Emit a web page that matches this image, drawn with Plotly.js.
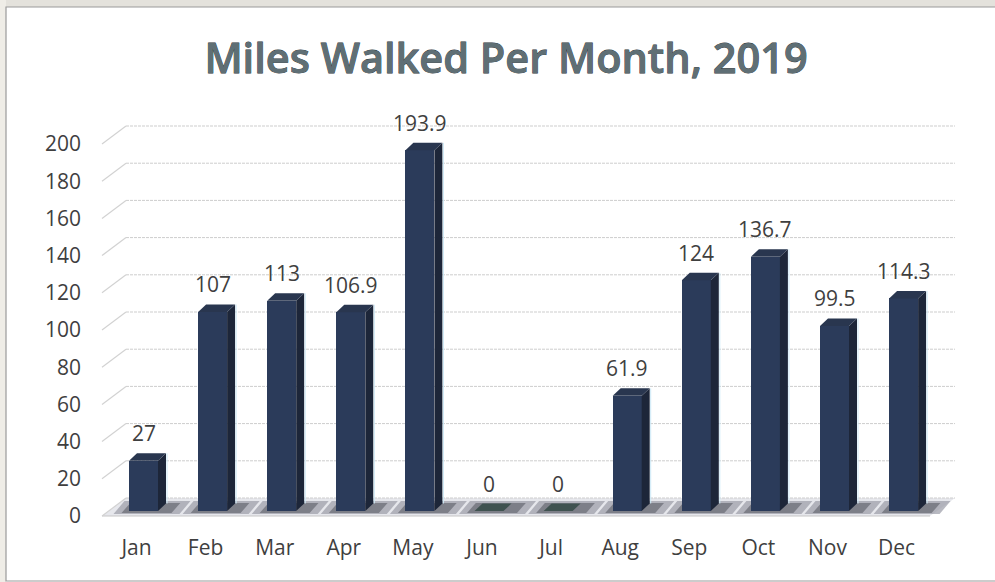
<!DOCTYPE html>
<html><head><meta charset="utf-8">
<script src="https://cdn.plot.ly/plotly-3.0.1.min.js"></script>
<style>
html,body{margin:0;padding:0;background:#fff}
#chart{width:995px;height:582px}
.gtitle{stroke:#2a3236;stroke-width:.8px;paint-order:stroke}
</style></head><body><div id="chart"></div>
<script>
const months=['Jan','Feb','Mar','Apr','May','Jun','Jul','Aug','Sep','Oct','Nov','Dec'];
const miles=[27,107,113,106.9,193.9,0,0,61.9,124,136.7,99.5,114.3];
const labels=['27','107','113','106.9','193.9','0','0','61.9','124','136.7','99.5','114.3'];
const yTicks=[0,20,40,60,80,100,120,140,160,180,200];

const W=995,H=582,L=90,R=985,T=100,B=530;
const pxPerCat=69.1,pxPerUnit=1.86,x0Px=143.5,y0Px=511;
const xRange=[(L-x0Px)/pxPerCat,(R-x0Px)/pxPerCat];
const yRange=[-(B-y0Px)/pxPerUnit,(y0Px-T)/pxPerUnit];
const cx=p=>(p-x0Px)/pxPerCat, cy=p=>(y0Px-p)/pxPerUnit;
const dx=8/pxPerCat, dy=7.5/pxPerUnit, hw=14.5/pxPerCat;
const px=p=>(p-L)/(R-L), py=p=>(B-p)/(B-T);
const path=pts=>'M'+pts.map(q=>q[0]+','+q[1]).join('L')+'Z';

const shapes=[];
const poly=(pts,fill,layer,op)=>shapes.push({type:'path',xref:'x',yref:'y',path:path(pts),fillcolor:fill,opacity:op==null?1:op,line:{width:0},layer:layer});
// paper strips and frame
shapes.push({type:'rect',xref:'paper',yref:'paper',x0:px(0),x1:px(995),y0:py(0),y1:py(7),fillcolor:'#e4e2dc',line:{width:0},layer:'below'});
shapes.push({type:'rect',xref:'paper',yref:'paper',x0:px(0),x1:px(6),y0:py(0),y1:py(582),fillcolor:'#efede7',line:{width:0},layer:'below'});
shapes.push({type:'path',xref:'paper',yref:'paper',path:'M'+px(995)+','+py(7)+'L'+px(6)+','+py(7)+'L'+px(6)+','+py(581)+'L'+px(995)+','+py(581),line:{color:'#9a9a9a',width:1.2},layer:'below'});
// floor
const fY=cy(516), bY=cy(498);
poly([[cx(102),fY],[cx(126),bY],[cx(955),bY],[cx(930),fY]],'#e6e7ec','below');
shapes.push({type:'line',xref:'x',yref:'y',x0:cx(102),x1:cx(930),y0:fY,y1:fY,line:{color:'#c6c6c6',width:1.2},layer:'below'});
// walls
yTicks.forEach(t=>{
  const fy=cy(516-t*pxPerUnit), by=cy(498-t*pxPerUnit);
  shapes.push({type:'line',xref:'x',yref:'y',x0:cx(102),x1:cx(126),y0:fy,y1:by,line:{color:'#d2d2d2',width:1.2},layer:'below'});
  shapes.push({type:'line',xref:'x',yref:'y',x0:cx(126),x1:cx(955),y0:by,y1:by,line:{color:'#cdcdcd',width:1,dash:'3px,1px'},layer:'below'});
});
// shadows on the floor
months.forEach((m,i)=>{
  const sl=11/pxPerCat;
  poly([[i-30/pxPerCat,cy(514)],[i-30/pxPerCat+sl,cy(501)],[i+36/pxPerCat+sl,cy(501)],[i+36/pxPerCat,cy(514)]],'#9a9ba6','below',0.7);
  poly([[i-22/pxPerCat,cy(513)],[i-22/pxPerCat+sl*.8,cy(503)],[i+28/pxPerCat+sl*.8,cy(503)],[i+28/pxPerCat,cy(513)]],'#6c6d77','below',0.75);
});
// 3D faces of the bars, derived from the values
months.forEach((m,i)=>{
  const v=miles[i];
  if(v>0){
    poly([[i+hw,0],[i+hw+dx,dy],[i+hw+dx,v+dy],[i+hw,v]],'#1d2639','above');
    shapes.push({type:'line',xref:'x',yref:'y',x0:i+hw+dx+1/pxPerCat,x1:i+hw+dx+1/pxPerCat,y0:dy,y1:v+dy,line:{color:'#cde9f7',width:1},layer:'above'});
  }
  poly([[i-hw,v],[i-hw+dx,v+dy],[i+hw+dx,v+dy],[i+hw,v]],v>0?'#29364f':'#3f5250','above');
});

const annotations=months.map((m,i)=>({x:i,y:miles[i],xref:'x',yref:'y',text:labels[i],showarrow:false,yanchor:'middle',yshift:27.5,font:{family:'Open Sans',size:21,color:'#3f3f3f'}}));

Plotly.newPlot('chart',[{
  type:'bar',x:months.map((m,i)=>i),y:miles,width:2*hw,
  marker:{color:'#2b3b5a',line:{width:0}},hoverinfo:'x+y'
}],{
  width:W,height:H,
  margin:{l:L,r:W-R,t:T,b:H-B,pad:0},
  paper_bgcolor:'#fff',plot_bgcolor:'rgba(0,0,0,0)',showlegend:false,
  title:{text:'Miles Walked Per Month, 2019',x:506/W,xanchor:'center',xref:'container',y:1-58/H,yanchor:'middle',yref:'container',
    font:{family:'Open Sans',size:41.5,weight:600,color:'#5f6f75'}},
  xaxis:{range:xRange,tickmode:'array',tickvals:months.map((m,i)=>i),ticktext:months,showgrid:false,zeroline:false,showline:false,ticks:'',
    ticklabelstandoff:3,ticklabelshift:-7,tickfont:{family:'Open Sans',size:21,color:'#3f3f3f'}},
  yaxis:{range:yRange,tickmode:'array',tickvals:yTicks,ticktext:yTicks.map(String),showgrid:false,zeroline:false,showline:false,ticks:'',
    ticklabelstandoff:8,ticklabelshift:5,tickfont:{family:'Open Sans',size:21,color:'#3f3f3f'}},
  shapes:shapes,annotations:annotations,bargap:0
},{displayModeBar:false,staticPlot:true});
</script></body></html>
